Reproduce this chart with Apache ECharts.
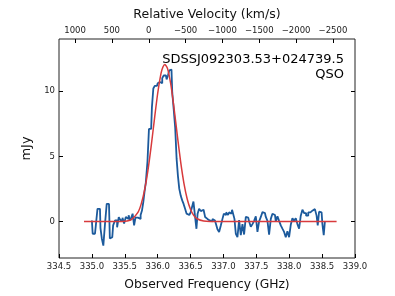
<!DOCTYPE html>
<html>
<head>
<meta charset="utf-8">
<script src="https://cdn.jsdelivr.net/npm/echarts@6/dist/echarts.min.js"></script>
<style>html,body{margin:0;padding:0;background:#fff;}#c{width:395px;height:296px;}</style>
</head>
<body>
<div id="c"></div>
<script>
// Observed spectrum (steps) : frequency (GHz) and flux (mJy)
var specFreq = [335.000,335.024,335.047,335.073,335.097,335.123,335.138,335.164,335.184,335.214,335.237,335.260,335.286,335.310,335.336,335.366,335.401,335.416,335.453,335.477,335.503,335.529,335.549,335.568,335.590,335.609,335.629,335.655,335.670,335.690,335.711,335.731,335.751,335.772,335.792,335.807,335.833,335.857,335.878,335.901,335.924,335.944,335.967,335.989,336.012,336.035,336.058,336.081,336.103,336.126,336.146,336.167,336.187,336.210,336.233,336.255,336.278,336.298,336.318,336.339,336.365,336.384,336.404,336.430,336.450,336.471,336.491,336.511,336.532,336.556,336.582,336.597,336.617,336.643,336.669,336.688,336.708,336.734,336.757,336.780,336.802,336.821,336.845,336.871,336.897,336.921,336.947,336.973,336.997,337.015,337.033,337.049,337.064,337.076,337.099,337.122,337.140,337.160,337.175,337.201,337.225,337.251,337.277,337.301,337.327,337.353,337.377,337.403,337.429,337.453,337.479,337.505,337.529,337.555,337.581,337.605,337.631,337.657,337.681,337.707,337.733,337.757,337.783,337.809,337.833,337.859,337.884,337.909,337.935,337.960,337.985,338.011,338.036,338.061,338.087,338.112,338.137,338.163,338.188,338.213,338.239,338.274,338.304,338.340,338.375,338.406,338.426,338.441,338.467,338.492,338.517,338.532,338.553];
var specFlux = [0.08,-0.94,-0.94,-0.3,0.97,0.97,-0.5,-1.3,-1.85,-0.2,1.35,1.35,-1.3,-1.2,-0.3,0.08,-0.45,0.33,0.1,0.28,-0.15,0.35,0.2,0.48,0.1,0.3,0.6,-0.3,0.3,0.35,0.3,0.2,0.5,0.84,1.5,2.25,3.0,4.6,7.1,7.1,8.75,10.2,10.4,10.4,10.6,10.7,10.6,11.0,11.2,11.2,10.9,11.2,11.6,11.65,9.9,8.6,7.2,4.8,3.5,2.5,1.95,1.6,1.35,0.97,0.6,0.5,0.35,0.7,1.1,1.53,0.35,-0.56,0.6,0.97,0.8,0.9,0.97,0.35,0.2,0.08,0.1,0.0,0.2,0.08,-0.15,-0.6,-0.8,-0.3,0.2,0.6,0.5,0.7,0.72,0.5,0.7,0.6,0.9,0.85,0.2,-0.94,-1.2,0.1,-1.05,-0.2,-1.0,0.35,0.3,0.0,-0.4,-0.2,0.05,0.4,-0.8,0.0,0.35,0.72,0.65,0.35,0.05,-1.0,0.2,0.6,0.5,0.0,0.4,0.05,-0.3,-0.55,-0.8,-1.2,-0.75,-1.2,-0.25,0.25,0.05,0.25,-0.2,-0.55,0.45,0.9,0.65,0.45,0.7,0.85,0.95,1.0,0.45,-0.3,0.75,0.7,-0.2,-1.05,0.0];

// Gaussian fit curve
var fitFreq = [334.88,335.40,335.50,335.60,335.70,335.75,335.80,335.85,335.90,335.95,336.00,336.05,336.08,336.11,336.15,336.20,336.25,336.30,336.35,336.40,336.45,336.50,336.55,336.60,336.70,336.80,338.72];
var fitFlux = [0.0,0.0,0.02,0.15,0.70,1.35,2.38,3.85,5.72,7.82,9.82,11.34,11.85,12.05,11.73,10.51,8.65,6.55,4.55,2.91,1.71,0.92,0.45,0.21,0.03,0.0,0.0];

// Axis ticks
var freqTicks = [334.5,335.0,335.5,336.0,336.5,337.0,337.5,338.0,338.5,339.0];
var velTicks = [1000,500,0,-500,-1000,-1500,-2000,-2500];
var fluxTicks = [0,5,10];

var labelText = "SDSSJ092303.53+024739.5";
var typeText = "QSO";

function pairs(xs, ys){ var o=[]; for(var i=0;i<xs.length;i++) o.push([xs[i], ys[i]]); return o; }

var FONT = "DejaVu Sans";
var chart = echarts.init(document.getElementById('c'), null, {renderer:'canvas'});
var tickStyle = {show:true, inside:true, length:4, lineStyle:{color:'#000', width:1}};
var lblStyle = {fontFamily:FONT, fontSize:8.5, color:'#222'};
var noLine = {show:false, onZero:false};

chart.setOption({
  animation:false,
  backgroundColor:'#fff',
  grid:{left:59, right:40, top:39, bottom:37, show:true, borderColor:'#222', borderWidth:1, backgroundColor:'transparent'},
  xAxis:[
    {type:'value', position:'bottom', min:334.5, max:339.0,
     axisLine:noLine, splitLine:{show:false},
     axisTick:Object.assign({customValues:freqTicks}, tickStyle),
     axisLabel:Object.assign({customValues:freqTicks, margin:4, formatter:function(v){return v.toFixed(1);}}, lblStyle),
     name:'Observed Frequency (GHz)', nameLocation:'middle', nameGap:21,
     nameTextStyle:{fontFamily:FONT, fontSize:12.3, color:'#111'}},
    {type:'value', position:'top', min:-2799, max:1218, inverse:true,
     axisLine:noLine, splitLine:{show:false},
     axisTick:Object.assign({customValues:velTicks}, tickStyle),
     axisLabel:Object.assign({customValues:velTicks, margin:4, formatter:function(v){return String(v).replace('-', '\u2212');}}, lblStyle),
     name:'Relative Velocity (km/s)', nameLocation:'middle', nameGap:18,
     nameTextStyle:{fontFamily:FONT, fontSize:12.5, color:'#111'}}
  ],
  yAxis:[
    {type:'value', position:'left', min:-2.8, max:14,
     axisLine:noLine, splitLine:{show:false},
     axisTick:Object.assign({customValues:fluxTicks}, tickStyle),
     axisLabel:Object.assign({customValues:fluxTicks, margin:4}, lblStyle),
     name:'mJy', nameLocation:'middle', nameGap:25, nameRotate:90,
     nameTextStyle:{fontFamily:FONT, fontSize:13, color:'#111'}},
    {type:'value', position:'right', min:-2.8, max:14,
     axisLine:noLine, splitLine:{show:false},
     axisTick:Object.assign({customValues:fluxTicks}, tickStyle),
     axisLabel:{show:false}}
  ],
  series:[
    {type:'line', xAxisIndex:0, yAxisIndex:0, step:'middle', symbol:'none',
     data:pairs(specFreq, specFlux),
     lineStyle:{color:'#1c5a9c', width:1.8}, z:2},
    {type:'line', xAxisIndex:0, yAxisIndex:0, symbol:'none', smooth:0.2,
     data:pairs(fitFreq, fitFlux),
     lineStyle:{color:'#d83a3c', width:1.5}, z:3}
  ],
  graphic:[
    {type:'text', right:395-344, top:53, z:10,
     style:{text:labelText, fontFamily:FONT, fontSize:13, fill:'#000', textAlign:'right'}},
    {type:'text', right:395-344, top:68, z:10,
     style:{text:typeText, fontFamily:FONT, fontSize:13, fill:'#000', textAlign:'right'}}
  ]
});
</script>
</body>
</html>
